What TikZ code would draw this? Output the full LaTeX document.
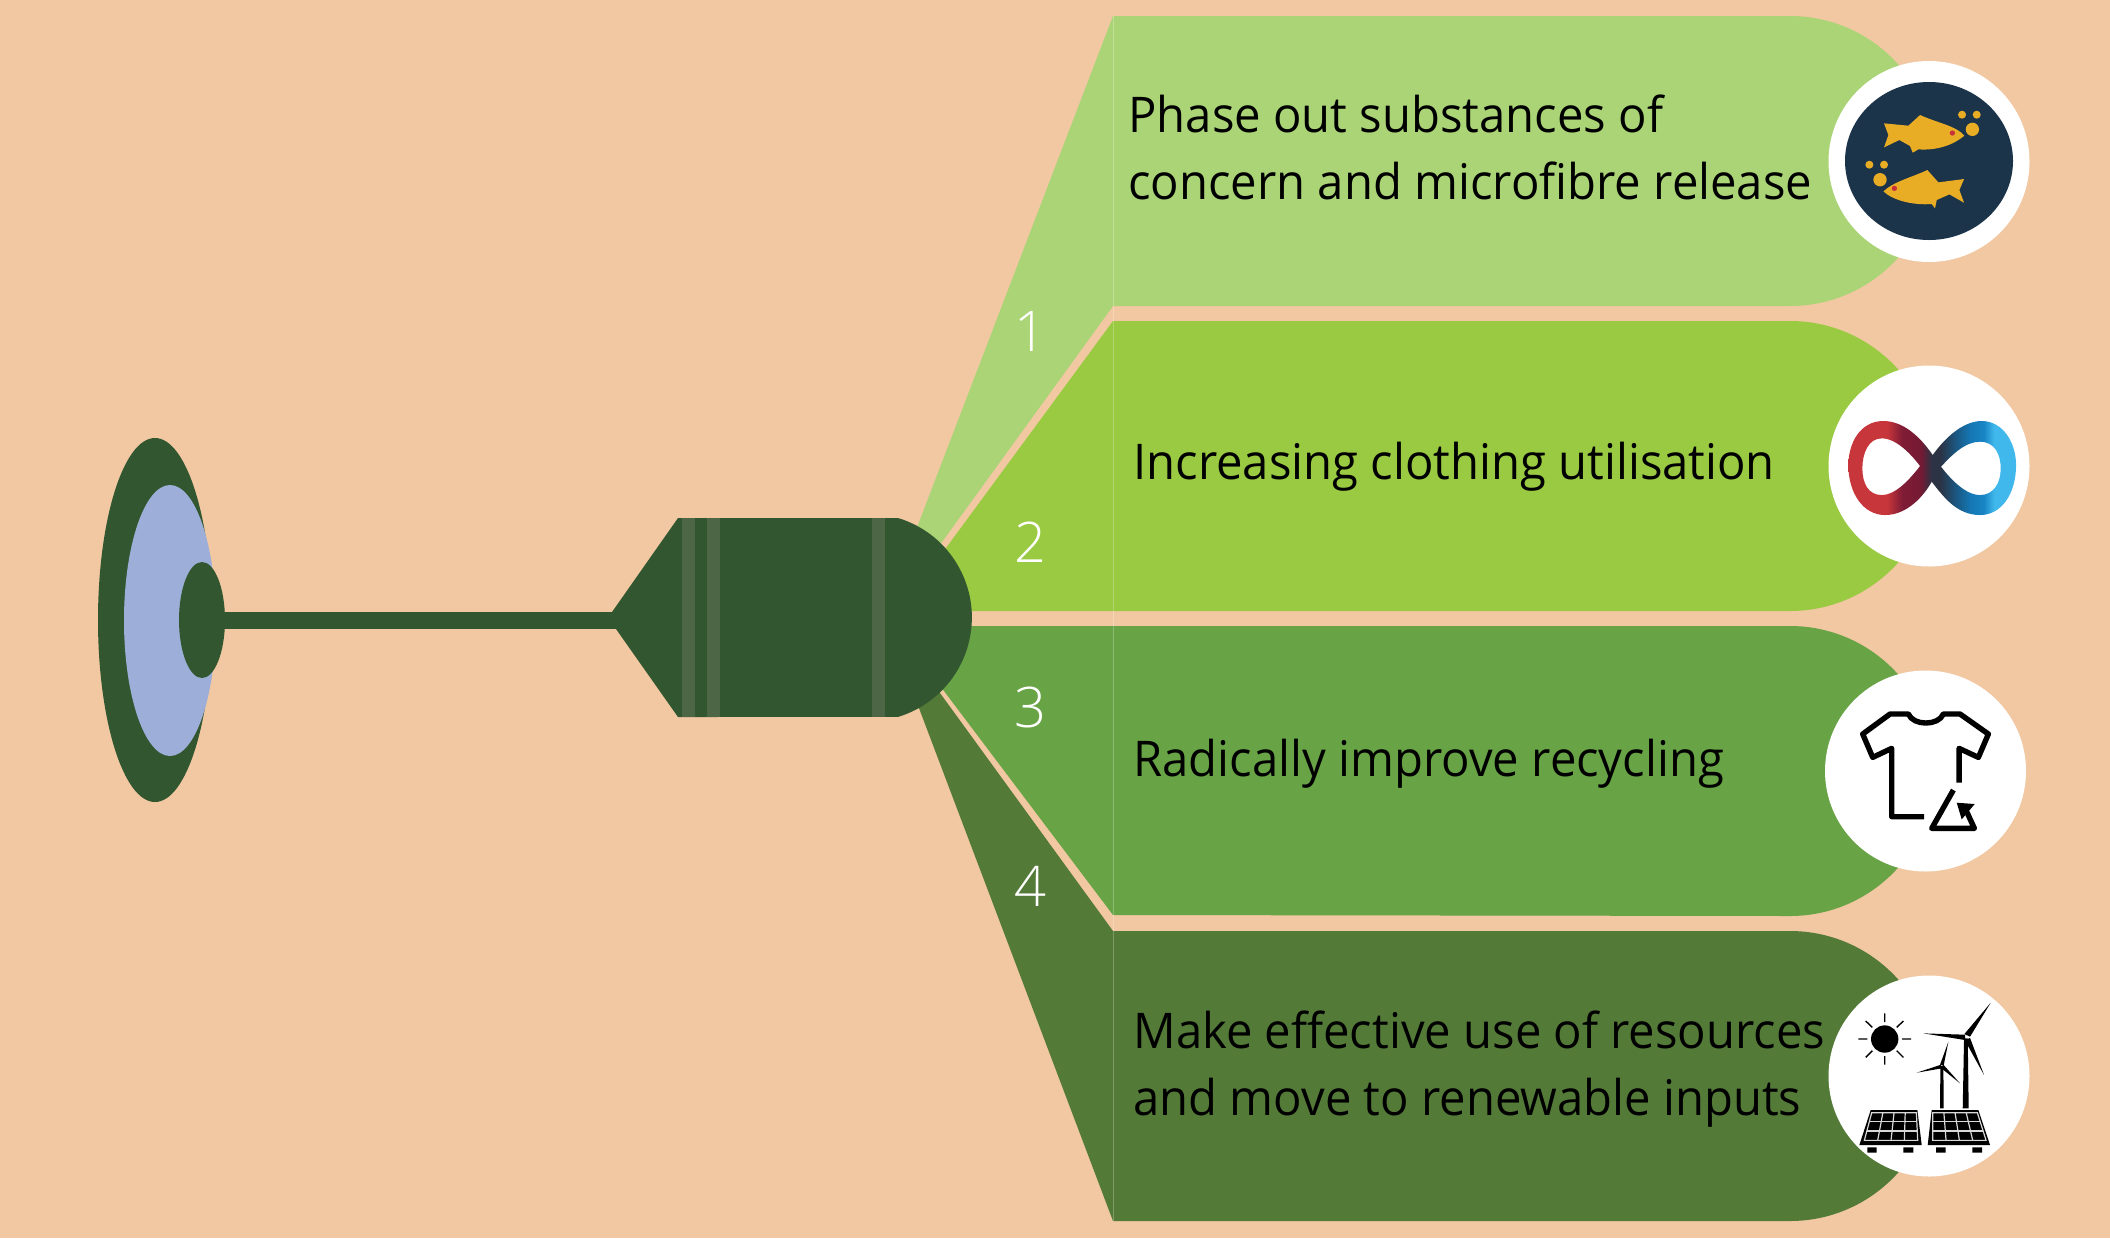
\documentclass[tikz,border=0pt]{standalone}
\usepackage{fontspec}
\setmainfont[FakeStretch=0.96]{Open Sans}
\newfontfamily\numfont{Open Sans Light}
\usetikzlibrary{calc}
\definecolor{bgc}{HTML}{F1C8A2}
\definecolor{dk}{HTML}{325730}
\definecolor{stripe}{HTML}{4D6746}
\definecolor{bluee}{HTML}{9DAFD8}
\definecolor{bandA}{HTML}{AAD476}
\definecolor{bandB}{HTML}{99CA41}
\definecolor{bandC}{HTML}{68A345}
\definecolor{bandD}{HTML}{547A38}
\definecolor{navy}{HTML}{1C3449}
\definecolor{fish}{HTML}{E9AD25}
\definecolor{eye}{HTML}{C8323C}
\pgfdeclarehorizontalshading{infLeft}{100bp}{rgb(0bp)=(0.78,0.21,0.23); rgb(25bp)=(0.78,0.21,0.23); rgb(46bp)=(0.78,0.21,0.23); rgb(54bp)=(0.50,0.11,0.21); rgb(64bp)=(0.46,0.10,0.20); rgb(70bp)=(0.17,0.20,0.27); rgb(100bp)=(0.17,0.20,0.27)}
\pgfdeclarehorizontalshading{infRight}{100bp}{rgb(0bp)=(0.17,0.20,0.27); rgb(30bp)=(0.17,0.20,0.27); rgb(40bp)=(0.10,0.35,0.52); rgb(48bp)=(0.08,0.47,0.71); rgb(56bp)=(0.10,0.52,0.77); rgb(62bp)=(0.25,0.72,0.92); rgb(75bp)=(0.25,0.72,0.92); rgb(100bp)=(0.25,0.72,0.92)}
\tikzset{
  label text/.style={anchor=west,align=left,text=black,inner sep=0pt,font=\fontsize{24.6}{33.5}\selectfont},
  num text/.style={text=white,inner sep=0pt,anchor=base,font=\numfont\fontsize{28}{34}\selectfont},
  zoomA/.style={shift={(1780,30)},x=0.1667pt,y=-0.1667pt},
  zoomB/.style={shift={(1780,340)},x=0.1667pt,y=-0.1667pt},
  zoomC/.style={shift={(1780,650)},x=0.1667pt,y=-0.1667pt},
  zoomD/.style={shift={(1780,960)},x=0.1667pt,y=-0.1667pt},
}
\begin{document}
\begin{tikzpicture}[x=0.5pt,y=-0.5pt]
\useasboundingbox (0,0) rectangle (2110,1238);
\fill[bgc] (0,0) rectangle (2110,1238);
% bands
\fill[bandA] (893,590) -- (1113,16) -- (1790,16) arc[start angle=90,end angle=-90,radius=72.5pt] -- (1113,306) -- (942,542) -- (900,600) -- cycle;
\fill[bandB] (900,611) -- (900,600) -- (946,548) -- (1113,321) -- (1790,321) arc[start angle=90,end angle=-90,radius=72.5pt] -- cycle;
\fill[bandC] (900,626) -- (1790,626) arc[start angle=90,end angle=-90,radius=72.5pt] -- (1113,915) -- (944,691) -- (900,640) -- cycle;
\fill[bandD] (897,650) -- (940,693) -- (1113,931) -- (1790,931) arc[start angle=90,end angle=-90,radius=72.5pt] -- (1113,1221) -- cycle;
\draw[white,opacity=.25,line width=.5pt] (1113,16) -- (1113,1221);
% funnel body
\fill[dk] (612,612) -- (678,518) -- (898,518) arc[start angle=73.2,end angle=-73.2,radius=51.95pt] -- (678,717) -- (616,629) -- cycle;
\fill[stripe] (682,518) rectangle (695,717);
\fill[stripe] (707,518) rectangle (720,717);
\fill[stripe] (872,518) rectangle (885,717);
% stem and disc
\fill[dk] (155,620) ellipse[x radius=28.5pt,y radius=91pt];
\fill[bluee] (170,620.5) ellipse[x radius=23pt,y radius=67.75pt];
\fill[dk] (202,620) ellipse[x radius=11.5pt,y radius=29pt];
\fill[dk] (200,612) rectangle (616,629);
% numbers
\node[num text] (n1) at (1030,351) {1};
\node[num text] (n2) at (1030,562) {2};
\node[num text] (n3) at (1030,727) {3};
\node[num text] (n4) at (1030,906) {4};
% labels
\node[label text] (t1) at (1128,147) {Phase out substances of\\concern and microfibre release};
\node[label text] (t2) at (1133,467) {Increasing clothing utilisation};
\node[label text] (t3) at (1133,764) {Radically improve recycling};
\node[label text] (t4) at (1133,1069) {Make effective use of resources\\and move to renewable inputs};
% icon 1
\fill[white] (1929,161.5) circle[radius=50.25pt];
\fill[navy] (1929,161) ellipse[x radius=42pt,y radius=39.5pt];
\begin{scope}[zoomA]
\fill[fish] (312,280) -- (385,287) -- (420,255) .. controls (470,278) and (530,288) .. (553,317) .. controls (520,345) and (470,362) .. (415,358) -- (398,368) -- (390,348) -- (358,330) -- (312,352) -- (325,315) -- cycle;
\fill[eye] (517,309) circle[radius=8];
\fill[fish] (546,254) circle[radius=12] (590,254) circle[radius=12] (577,298) circle[radius=20];
\fill[fish] (552,447) -- (475,457) -- (442,420) .. controls (400,440) and (340,455) .. (310,484) .. controls (340,512) and (400,526) .. (455,522) -- (465,535) -- (470,510) -- (508,493) -- (552,518) -- (538,480) -- cycle;
\fill[eye] (343,475) circle[radius=8];
\fill[fish] (268,404) circle[radius=12] (312,404) circle[radius=12] (300,449) circle[radius=20];
\end{scope}
% icon 2
\fill[white] (1929,466) circle[radius=50.25pt];
\begin{scope}[zoomB]
\shade[even odd rule,shading=infRight]
 (458,345) .. controls (490,300) and (545,243) .. (605,243) .. controls (670,243) and (708,310) .. (708,375) .. controls (708,460) and (665,525) .. (600,525) .. controls (530,525) and (490,470) .. (455,425) -- cycle
 (483,380) .. controls (515,345) and (555,305) .. (600,305) .. controls (645,305) and (662,345) .. (662,385) .. controls (662,430) and (640,465) .. (600,465) .. controls (555,465) and (510,415) .. (483,380) -- cycle;
\shade[even odd rule,shading=infLeft]
 (458,345) .. controls (420,290) and (370,243) .. (310,243) .. controls (240,243) and (205,310) .. (205,375) .. controls (205,460) and (250,525) .. (315,525) .. controls (380,525) and (430,470) .. (455,425) -- (483,380) -- cycle
 (420,378) .. controls (395,345) and (350,295) .. (305,295) .. controls (265,295) and (247,340) .. (247,385) .. controls (247,430) and (265,465) .. (305,465) .. controls (350,465) and (395,410) .. (420,378) -- cycle;
\end{scope}
% icon 3
\fill[white] (1925.5,771) circle[radius=50.25pt];
\begin{scope}[zoomC]
\draw[black,line width=2.7pt,line join=round] (537,398) -- (537,295) -- (595,322) -- (625,252) -- (540,192) -- (490,192) .. controls (475,228) and (400,228) .. (385,192) -- (330,192) -- (248,252) -- (278,322) -- (335,295) -- (335,500) -- (432,500);
\draw[black,line width=2.7pt,line join=round] (520,420) -- (455,535) -- (583,535) -- (560,485);
\fill[black] (530,458) -- (584,462) -- (545,508) -- cycle;
\end{scope}
% icon 4
\fill[white] (1929,1076) circle[radius=50.25pt];
\begin{scope}[zoomD]
\fill[black] (314,237) circle[radius=41];
\draw[black,line width=.7pt] (314,160) -- (314,186) (314,288) -- (314,314) (235,237) -- (262,237) (366,237) -- (393,237) (257,183) -- (277,202) (370,183) -- (350,202) (257,292) -- (277,272) (370,292) -- (350,272);
\fill[black] (548,445) -- (552,235) -- (563,235) -- (566,445) -- cycle;
\fill[black] (632,128) -- (570,230) -- (553,222) -- cycle;
\fill[black] (430,220) -- (555,224) -- (555,240) -- cycle;
\fill[black] (612,345) -- (554,240) -- (570,234) -- cycle;
\fill[black] (480,445) -- (481,318) -- (490,318) -- (491,445) -- cycle;
\fill[black] (505,245) -- (491,316) -- (480,314) -- cycle;
\fill[black] (410,338) -- (483,314) -- (485,325) -- cycle;
\fill[black] (540,370) -- (482,323) -- (490,314) -- cycle;
\foreach \ax/\bx/\cx/\dx in {272/412/425/238,455/595/630/443}{
  \fill[black] (\ax,450) -- (\bx,450) -- (\cx,555) -- (\dx,555) -- cycle;
  \coordinate (pa) at ({\ax+3},458);
  \coordinate (pb) at ({\bx-3},458);
  \coordinate (pc) at ({\cx-12},541);
  \coordinate (pd) at ({\dx+15},541);
  \draw[white!85!black,line width=.6pt] (pa) -- (pb) -- (pc) -- (pd) -- cycle;
  \foreach \t in {0.25,0.5,0.75}{
    \draw[white!85!black,line width=.6pt] ($(pa)!\t!(pb)$) -- ($(pd)!\t!(pc)$);
  }
  \foreach \t in {0.33,0.66}{
    \draw[white!85!black,line width=.6pt] ($(pa)!\t!(pd)$) -- ($(pb)!\t!(pc)$);
  }
}
\fill[black] (262,562) rectangle (290,578) (370,562) rectangle (400,578) (468,562) rectangle (497,578) (577,562) rectangle (606,578);
\end{scope}
\end{tikzpicture}
\end{document}
